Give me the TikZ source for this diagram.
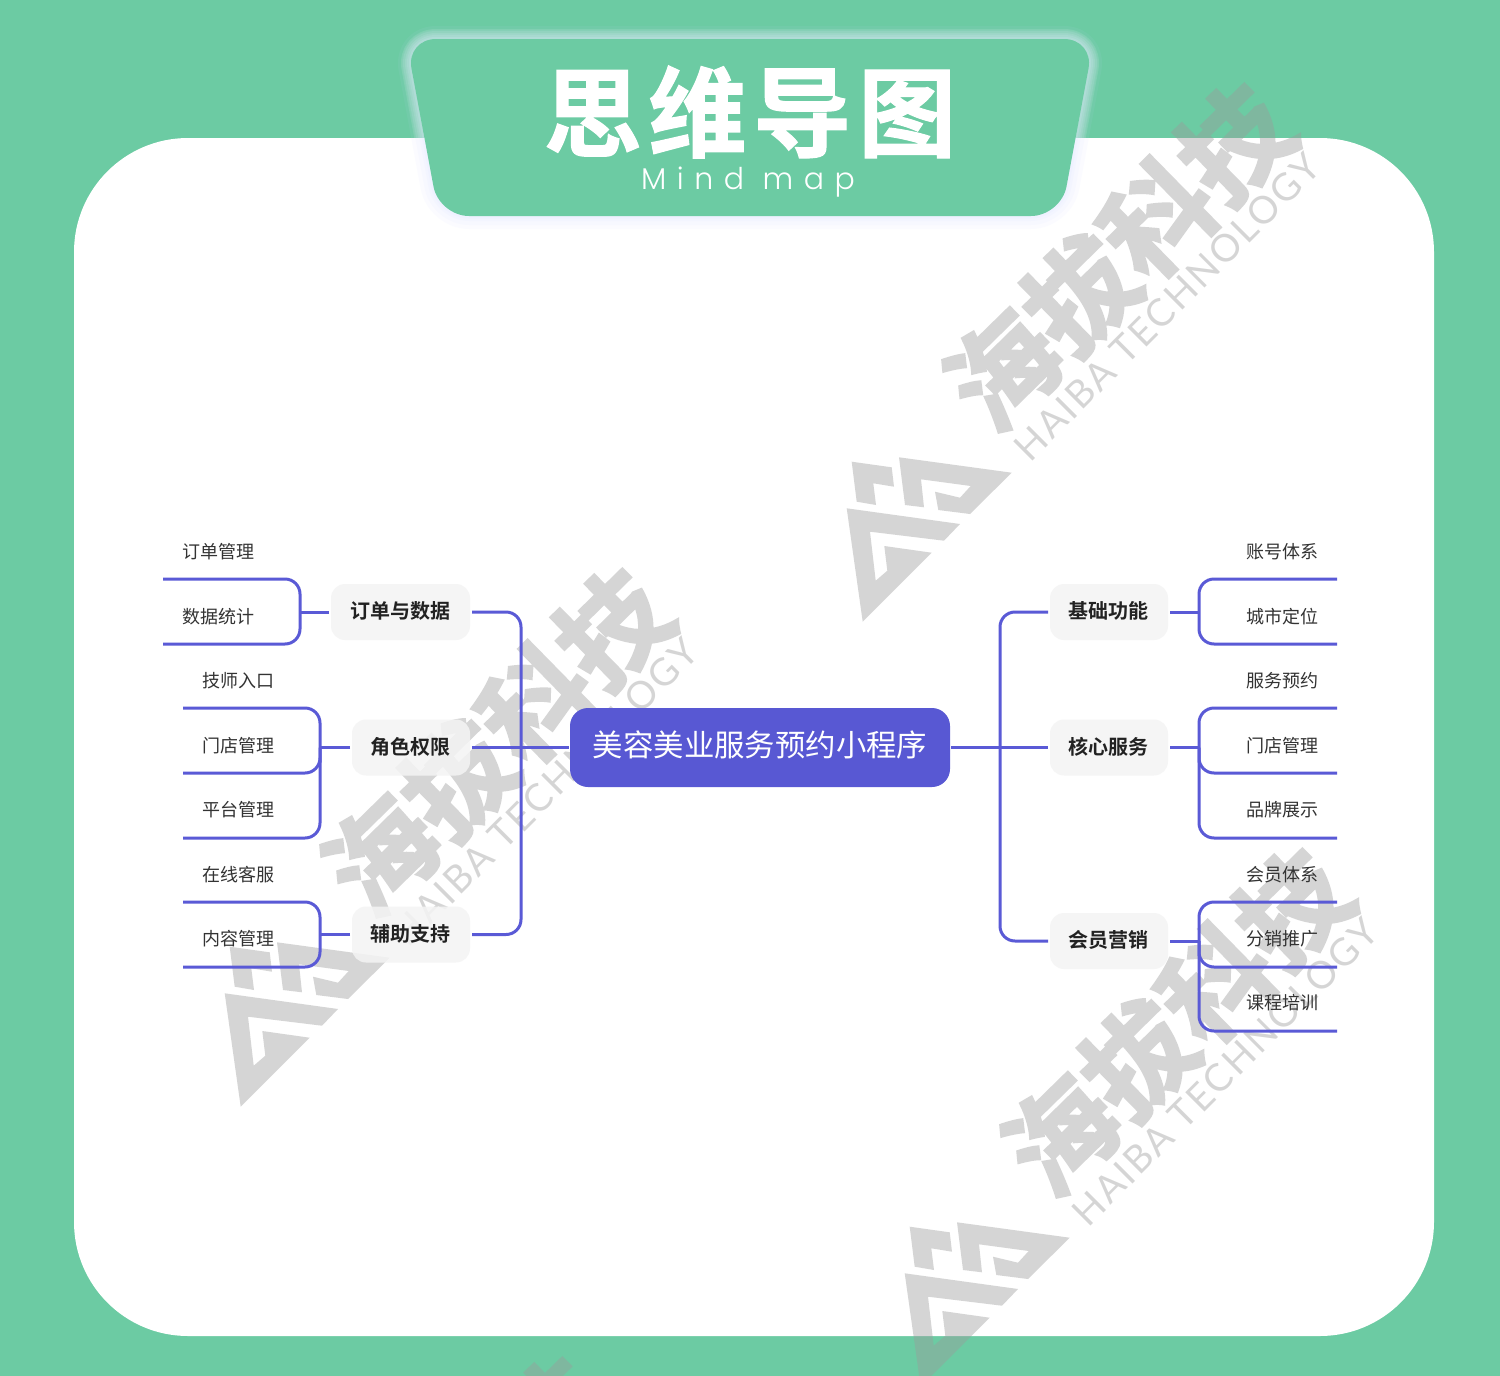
\documentclass[tikz,border=0pt]{standalone}
\usepackage{fontspec}
\usetikzlibrary{calc}
\setmainfont{Noto Sans CJK SC}[BoldFont={Noto Sans CJK SC Bold}]
\newfontfamily\titlecjk{Noto Sans CJK SC Bold}[FakeBold=1.2,LetterSpace=7]
\newfontfamily\wmcjk{Noto Sans CJK SC Bold}[FakeBold=2.5]
\newfontfamily\wmlat{Lato}[LetterSpace=6]
\newfontfamily\enfont{Poppins Light}[LetterSpace=35]
\definecolor{bandgreen}{HTML}{6CCBA3}
\definecolor{linepurple}{HTML}{5A5AD6}
\definecolor{rootpurple}{HTML}{5858D3}
\definecolor{chipgray}{HTML}{F4F4F4}
\definecolor{wmgray}{RGB}{155,155,155}
\definecolor{leaftext}{HTML}{333333}
\definecolor{chiptext}{HTML}{222222}
\definecolor{shadowblue}{HTML}{C8D2FF}
\newcommand{\ct}[1]{\hspace*{-1pt}#1}
\tikzset{
  conn/.style={draw=linepurple,line width=1.5pt,rounded corners=7.5pt},
  rootbox/.style={fill=rootpurple,rounded corners=9pt,text=white,minimum width=190pt,minimum height=39.5pt,inner sep=0pt,outer sep=0.5pt,text height=12pt,text depth=2.9pt,font=\fontsize{15.2}{16}\selectfont},
  chip/.style={fill=chipgray,fill opacity=.85,text opacity=1,rounded corners=7pt,text=chiptext,minimum height=28pt,inner sep=0pt,outer sep=1pt,text height=8pt,text depth=1.4pt,font=\bfseries\fontsize{10}{11}\selectfont},
  leaf/.style={text=leaftext,inner sep=0pt,font=\fontsize{9}{10}\selectfont},
  wmshape/.style={fill=wmgray,draw=none},
  wmtxt/.style={text=wmgray,inner sep=0pt}
}
\newcommand{\wmark}[2]{%
  \begin{scope}[shift={(#1,#2)},transparency group,opacity=.41]
    \fill[wmshape] (851.7,461.7)--(891.7,467.3)--(894,486.7)--(873.3,483.3)--(876,505)--(856.7,501.7)--cycle;
    \fill[wmshape] (899,457.3)--(1011.7,472.7)--(970,514)--(938.3,510)--(935,491.7)--(960,497.7)--(970.7,486)--(921,479.3)--(924,507.3)--(905,505)--cycle;
    \fill[wmshape] (846.7,508.3)--(960,524)--(944,540.7)--(870,531.7)--(875.7,580.7)--(887.3,570.7)--(884.3,546)--(931.7,552.7)--(862.7,621.7)--cycle;
    \node[wmtxt,rotate=44.4,font=\wmcjk\fontsize{54}{58}\selectfont] at (1119,256) {海拔科技};
    \node[wmtxt,rotate=45,font=\wmlat\fontsize{19}{21}\selectfont] at (1167,307) {HAIBA TECHNOLOGY};
  \end{scope}}
\begin{document}
\begin{tikzpicture}[x=0.5pt,y=-0.5pt]
\useasboundingbox (0,0) rectangle (1500,1376);
\clip (0,0) rectangle (1500,1376);
\fill[bandgreen] (0,0) rectangle (1500,1376);
% halo of the title panel
\def\panelpath{(750,39) -- (406,39) -- (439,216) -- (1061,216) -- (1094,39) -- cycle}
\foreach \w in {20,16,12,8,4}{
  \draw[white,opacity=.11,line width=\w*0.5pt,rounded corners=15pt,line join=round] \panelpath;
}
% card
\fill[white,rounded corners=57pt] (74,138) rectangle (1434,1336);
% shadow of the panel
\foreach \w in {26,18,10,5}{
  \draw[shadowblue,opacity=.07,line width=\w*0.5pt,rounded corners=15pt,line join=round] \panelpath;
}
% watermarks
\wmark{0}{0}
\wmark{-622}{485}
\wmark{58}{765}
\wmark{-682}{1274}
% panel
\fill[bandgreen,rounded corners=15pt] \panelpath;
\node[text=white,inner sep=0pt,font=\titlecjk\fontsize{49}{52}\selectfont] (title) at (750,112) {思维导图};
\node[text=white,inner sep=0pt,font=\enfont\fontsize{15}{17}\selectfont] (subtitle) at (748,182) {Mind map};
% root
\node[rootbox] (root) at (760,747.5) {美容美业服务预约小程序};
% branches
\node[chip,minimum width=69.5pt] (b1) at (400.5,612) {订单与数据};
\node[chip,minimum width=59pt] (b2) at (411,747.5) {\ct{角色权限}};
\node[chip,minimum width=59pt] (b3) at (411,934.5) {\ct{辅助支持}};
\node[chip,minimum width=59pt] (r1) at (1109,612) {\ct{基础功能}};
\node[chip,minimum width=59pt] (r2) at (1109,747.5) {\ct{核心服务}};
\node[chip,minimum width=59pt] (r3) at (1109,941) {\ct{会员营销}};
% trunks
\coordinate (tl) at (521,747.5);
\coordinate (tr) at (1000,747.5);
\draw[conn] (b1.east) -| (tl) |- (b3.east);
\draw[conn] (r1.west) -| (tr) |- (r3.west);
\draw[conn] (b2.east) -- (root.west);
\draw[conn] (root.east) -- (r2.west);
% left junctions
\coordinate (jl1) at (300,612);
\coordinate (jl2) at (320,747.5);
\coordinate (jl3) at (320,934.5);
\coordinate (la) at (163,579);
\coordinate (lb) at (163,644);
\coordinate (lc) at (183,708);
\coordinate (ld) at (183,773);
\coordinate (le) at (183,838);
\coordinate (lf) at (183,902);
\coordinate (lg) at (183,967);
\draw[conn] (b1.west) -- (jl1);
\draw[conn] (la) -| (jl1) |- (lb);
\draw[conn] (b2.west) -- (jl2);
\draw[conn] (lc) -| (jl2) |- (ld);
\draw[conn] (jl2) |- (le);
\draw[conn] (b3.west) -- (jl3);
\draw[conn] (lf) -| (jl3) |- (lg);
% right junctions
\coordinate (jr1) at (1199,612);
\coordinate (jr2) at (1199,747.5);
\coordinate (jr3) at (1199,941);
\coordinate (ra) at (1337,579);
\coordinate (rb) at (1337,644);
\coordinate (rc) at (1337,708);
\coordinate (rd) at (1337,773);
\coordinate (re) at (1337,838);
\coordinate (rf) at (1337,902);
\coordinate (rg) at (1337,967);
\coordinate (rh) at (1337,1031);
\draw[conn] (r1.east) -- (jr1);
\draw[conn] (ra) -| (jr1) |- (rb);
\draw[conn] (r2.east) -- (jr2);
\draw[conn] (rc) -| (jr2) |- (rd);
\draw[conn] (jr2) |- (re);
\draw[conn] (r3.east) -- (jr3);
\draw[conn] (rf) -| (jr3) |- (rg);
\draw[conn] (jr3) |- (rh);
% leaves
\node[leaf] (n1) at (218,551.5) {订单管理};
\node[leaf] (n2) at (218,616.5) {数据统计};
\node[leaf] (n3) at (238,680.5) {技师入口};
\node[leaf] (n4) at (238,745.5) {门店管理};
\node[leaf] (n5) at (238,809.5) {平台管理};
\node[leaf] (n6) at (238,874.5) {在线客服};
\node[leaf] (n7) at (238,938.5) {内容管理};
\node[leaf] (m1) at (1282.5,551.5) {账号体系};
\node[leaf] (m2) at (1282.5,616.5) {城市定位};
\node[leaf] (m3) at (1282.5,680.5) {服务预约};
\node[leaf] (m4) at (1282.5,745.5) {门店管理};
\node[leaf] (m5) at (1282.5,809.5) {品牌展示};
\node[leaf] (m6) at (1282.5,874.5) {会员体系};
\node[leaf] (m7) at (1282.5,938.5) {分销推广};
\node[leaf] (m8) at (1282.5,1003) {课程培训};
\end{tikzpicture}
\end{document}
